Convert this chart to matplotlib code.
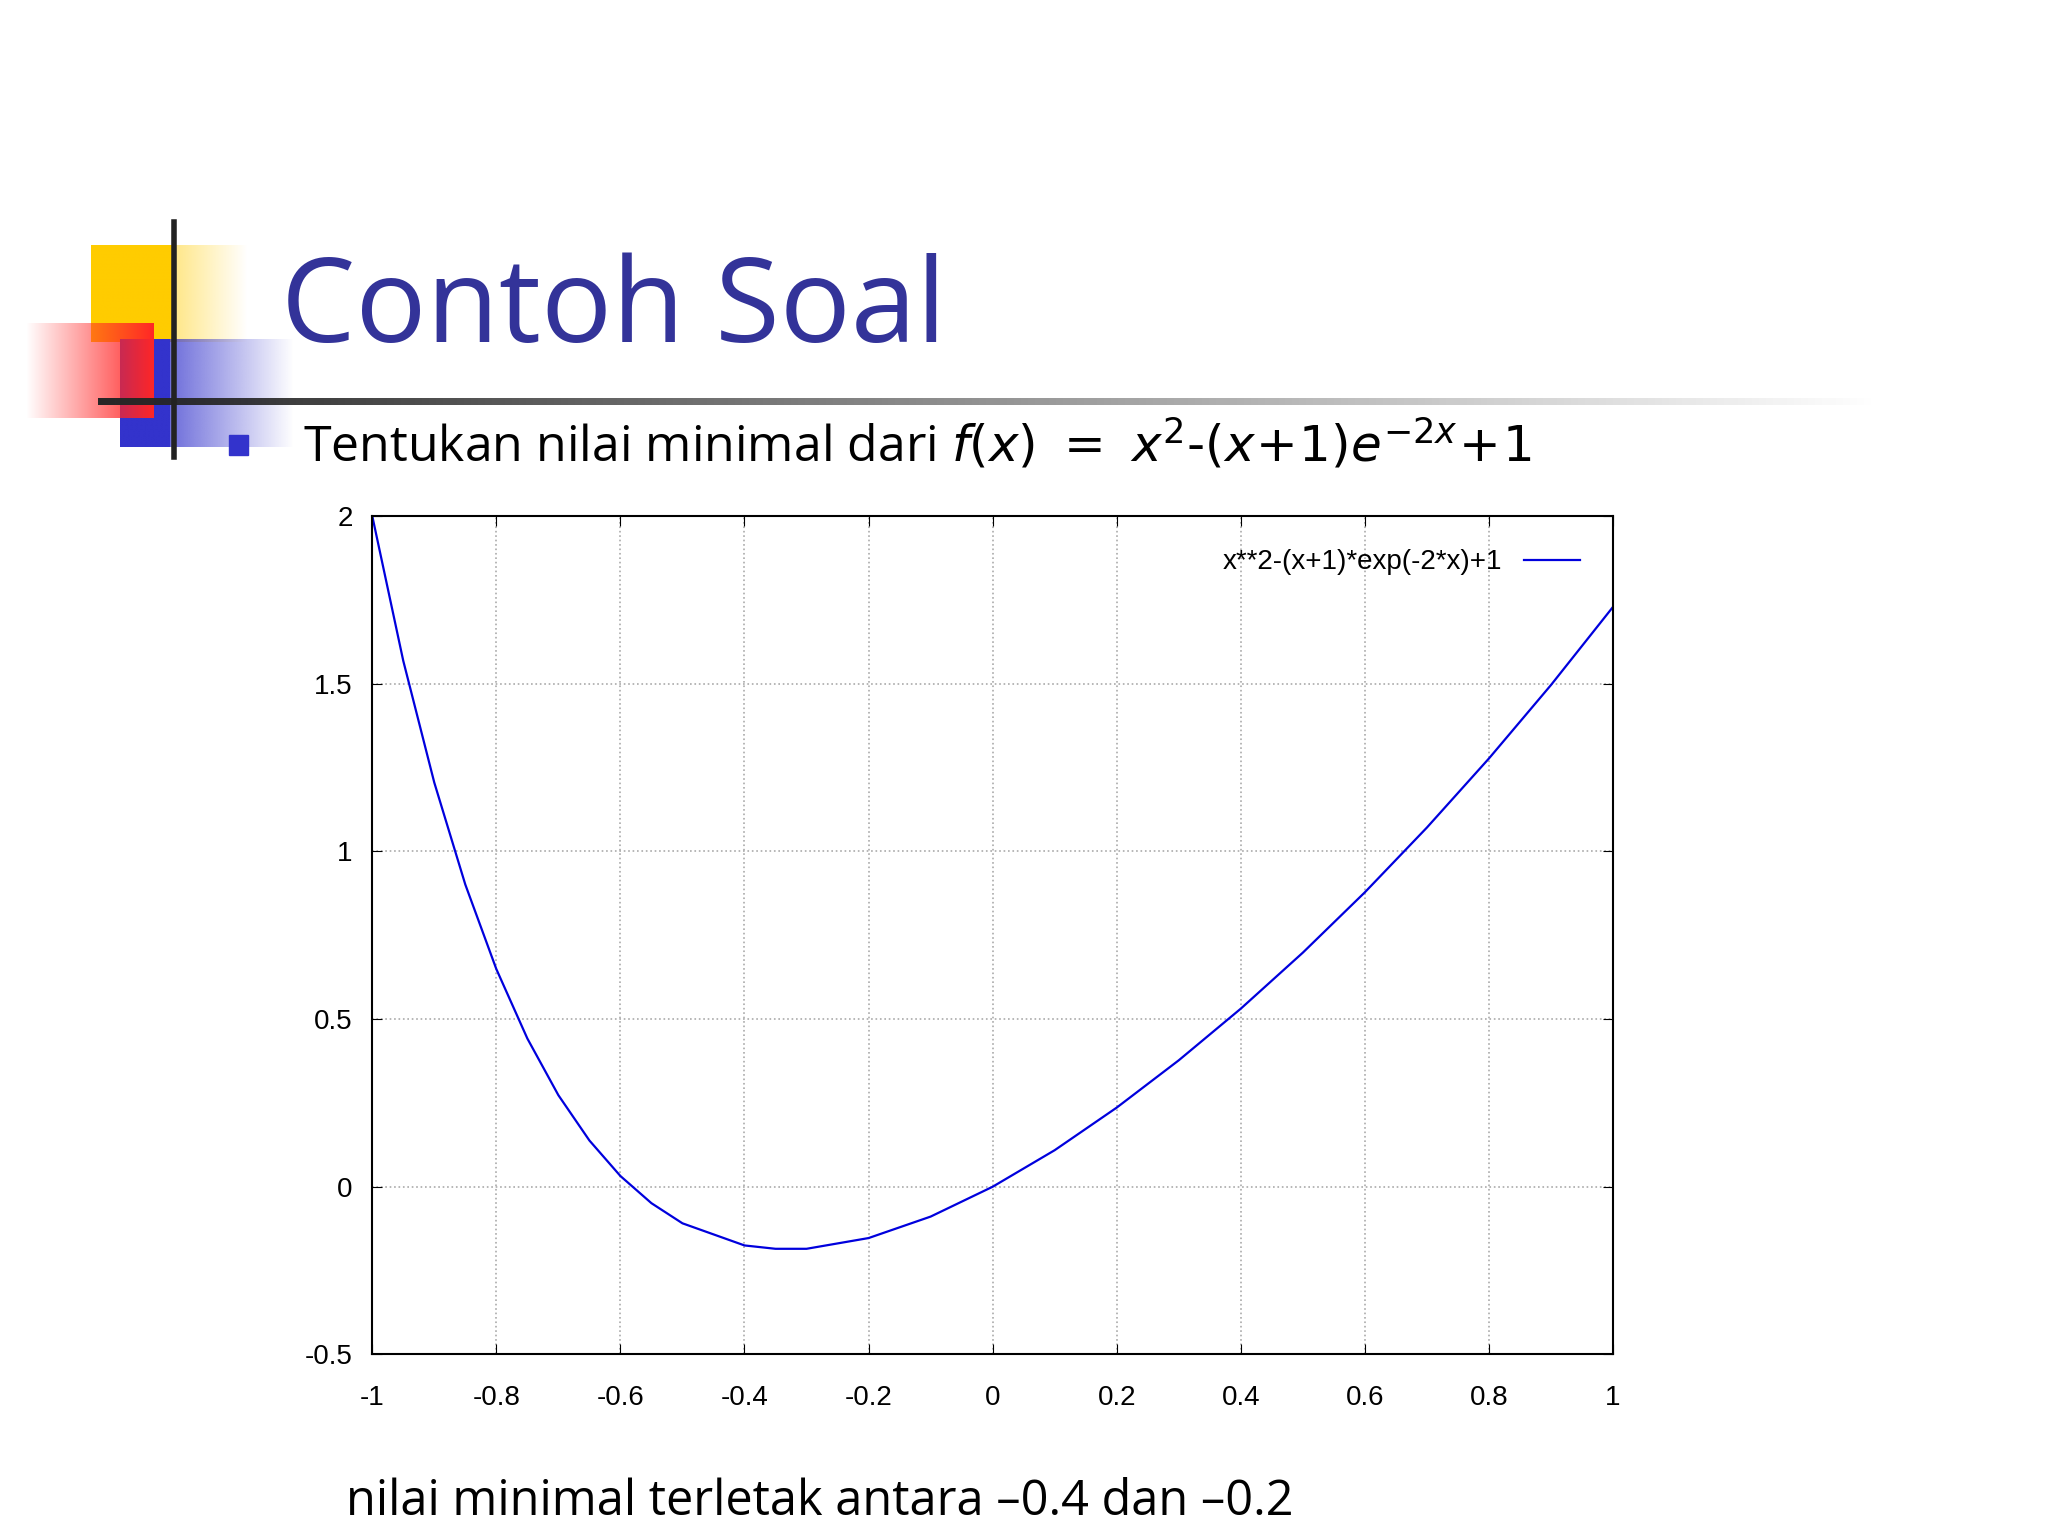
import numpy as np
import matplotlib
matplotlib.use("Agg")
import matplotlib.pyplot as plt
from matplotlib.patches import Rectangle

x_vals = [-1.0, -0.95, -0.9, -0.85, -0.8, -0.75, -0.7, -0.65, -0.6, -0.55, -0.5, -0.4, -0.35, -0.3, -0.2, -0.1, 0.0,
          0.1, 0.2, 0.3, 0.4, 0.5, 0.6, 0.7, 0.8, 0.9, 1.0]
y_vals = [2.0, 1.568, 1.205, 0.901, 0.649, 0.442, 0.273, 0.138, 0.032, -0.049, -0.109, -0.175, -0.185, -0.185, -0.153, -0.089, 0.0,
          0.109, 0.236, 0.377, 0.531, 0.698, 0.878, 1.071, 1.277, 1.496, 1.729]
xticks = [-1, -0.8, -0.6, -0.4, -0.2, 0, 0.2, 0.4, 0.6, 0.8, 1]
xticklabels = ["-1", "-0.8", "-0.6", "-0.4", "-0.2", "0", "0.2", "0.4", "0.6", "0.8", "1"]
yticks = [-0.5, 0, 0.5, 1, 1.5, 2]
yticklabels = ["-0.5", "0", "0.5", "1", "1.5", "2"]

W, H = 1568, 1176
fig = plt.figure(figsize=(20.48, 15.36), dpi=100)

deco = fig.add_axes([0, 0, 1, 1])
deco.set_xlim(0, W); deco.set_ylim(H, 0); deco.axis("off")
def grad(x0, x1, y0, y1, rgb, start=1.0, end=0.0, z=1):
    n = 256
    img = np.zeros((1, n, 4))
    img[..., :3] = rgb
    img[0, :, 3] = np.linspace(start, end, n)
    deco.imshow(img, extent=(x0, x1, y1, y0), aspect="auto", zorder=z, interpolation="bilinear")
grad(70, 190, 188, 262, (1.0, 0.8, 0.0), start=1.0, end=0.0, z=1)
grad(70, 135, 188, 262, (1.0, 0.8, 0.0), start=1.0, end=1.0, z=1)
grad(92, 225, 260, 342, (0.2, 0.2, 0.8), start=1.0, end=0.0, z=2)
grad(92, 130, 260, 342, (0.2, 0.2, 0.8), start=1.0, end=1.0, z=2)
grad(20, 118, 248, 320, (1.0, 0.15, 0.15), start=0.0, end=1.0, z=3)
deco.plot([133, 133], [170, 350], color="#222222", lw=4, zorder=5)
grad(75, 1440, 305, 310, (0.15, 0.15, 0.15), start=1.0, end=0.0, z=4)
deco.add_patch(Rectangle((175, 333), 15, 15, color="#3333cc", zorder=5))
deco.set_xlim(0, W); deco.set_ylim(H, 0)

fig.text(215/W, 1 - 262/H, "Contoh Soal", fontsize=85, color="#333399",
         family="Open Sans", va="baseline", ha="left")
fig.text(232/W, 1 - 353/H, r"Tentukan nilai minimal dari $\mathit{f(x)\ =\ x^{2}\text{-}(x\!+\!1)e^{-2x}\!+\!1}$",
         fontsize=36, family="Open Sans", va="baseline", ha="left")
fig.text(265/W, 1 - 1160/H, "nilai minimal terletak antara \u20130.4 dan \u20130.2",
         fontsize=35, family="Open Sans", va="baseline", ha="left")

ax = fig.add_axes([285/W, 1 - 1037/H, (1235-285)/W, (1037-395)/H])
ax.plot(x_vals, y_vals, color="#0000dd", lw=1.6, label="x**2-(x+1)*exp(-2*x)+1")
ax.set_xlim(-1, 1); ax.set_ylim(-0.5, 2)
ax.set_xticks(xticks); ax.set_xticklabels(xticklabels, family="Liberation Sans")
ax.set_yticks(yticks); ax.set_yticklabels(yticklabels, family="Liberation Sans")
ax.tick_params(direction="in", top=True, right=True, labelsize=20, length=7)
ax.tick_params(axis="x", pad=22)
ax.tick_params(axis="y", pad=14)
ax.grid(True, color="#aaaaaa", linestyle=":", lw=1.2)
for s in ax.spines.values():
    s.set_linewidth(1.5)
ax.legend(loc="upper right", frameon=False, markerfirst=False, prop={"family": "Liberation Sans", "size": 20},
          handlelength=2.0, borderaxespad=0.8)
fig.savefig("out.png", dpi=100)
